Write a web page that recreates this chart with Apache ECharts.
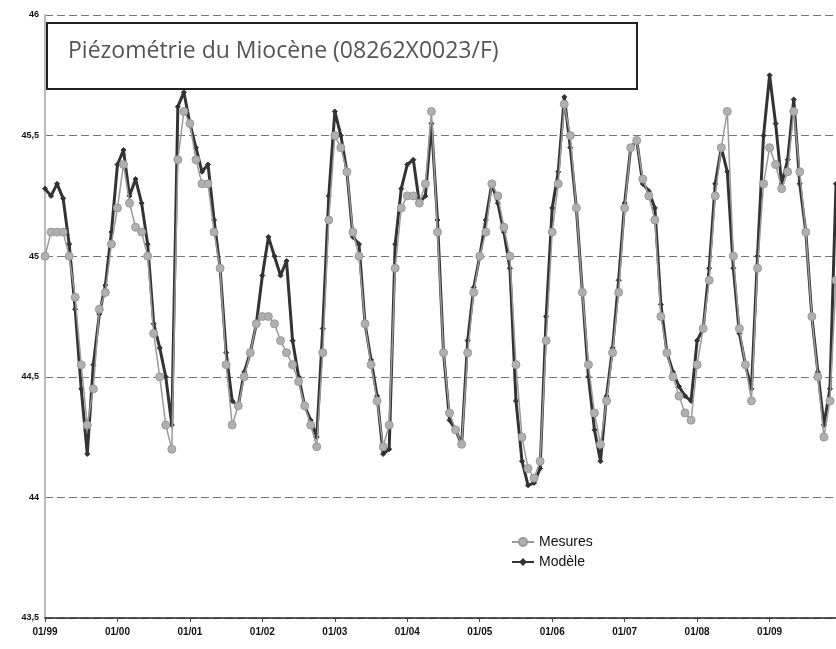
<!DOCTYPE html>
<html>
<head>
<meta charset="utf-8">
<script src="https://cdn.jsdelivr.net/npm/echarts@6/dist/echarts.min.js"></script>
<style>html,body{margin:0;padding:0;background:#fff;}#c{width:836px;height:649px;}</style>
</head>
<body>
<div id="c"></div>
<script>
// Monthly series, starting January 1999
var startYear = 1999;
var modele = [
45.28,45.25,45.30,45.24,45.05,44.78,44.45,44.18,44.55,44.76,44.88,45.10,
45.38,45.44,45.25,45.32,45.22,45.05,44.72,44.62,44.50,44.30,45.62,45.68,
45.55,45.45,45.35,45.38,45.15,44.95,44.60,44.40,44.38,44.52,44.60,44.72,
44.92,45.08,45.00,44.92,44.98,44.65,44.50,44.38,44.32,44.25,44.70,45.25,
45.60,45.50,45.35,45.08,45.05,44.72,44.57,44.42,44.18,44.20,45.05,45.28,
45.38,45.40,45.22,45.25,45.55,45.15,44.60,44.32,44.28,44.22,44.65,44.87,
45.00,45.15,45.30,45.22,45.10,44.95,44.40,44.15,44.05,44.06,44.12,44.75,
45.20,45.35,45.66,45.45,45.20,44.85,44.50,44.28,44.15,44.42,44.62,44.90,
45.22,45.45,45.48,45.30,45.27,45.20,44.80,44.60,44.52,44.46,44.42,44.40,
44.65,44.70,44.95,45.30,45.45,45.35,44.95,44.68,44.55,44.45,45.00,45.50,
45.75,45.55,45.30,45.40,45.65,45.30,45.10,44.75,44.52,44.30,44.45,45.30
];
var mesures = [
45.00,45.10,45.10,45.10,45.00,44.83,44.55,44.30,44.45,44.78,44.85,45.05,
45.20,45.38,45.22,45.12,45.10,45.00,44.68,44.50,44.30,44.20,45.40,45.60,
45.55,45.40,45.30,45.30,45.10,44.95,44.55,44.30,44.38,44.50,44.60,44.72,
44.75,44.75,44.72,44.65,44.60,44.55,44.48,44.38,44.30,44.21,44.60,45.15,
45.50,45.45,45.35,45.10,45.00,44.72,44.55,44.40,44.21,44.30,44.95,45.20,
45.25,45.25,45.22,45.30,45.60,45.10,44.60,44.35,44.28,44.22,44.60,44.85,
45.00,45.10,45.30,45.25,45.12,45.00,44.55,44.25,44.12,44.08,44.15,44.65,
45.10,45.30,45.63,45.50,45.20,44.85,44.55,44.35,44.22,44.40,44.60,44.85,
45.20,45.45,45.48,45.32,45.25,45.15,44.75,44.60,44.50,44.42,44.35,44.32,
44.55,44.70,44.90,45.25,45.45,45.60,45.00,44.70,44.55,44.40,44.95,45.30,
45.45,45.38,45.28,45.35,45.60,45.35,45.10,44.75,44.50,44.25,44.40,44.90
];
var xTickLabels = ['01/99','01/00','01/01','01/02','01/03','01/04','01/05','01/06','01/07','01/08','01/09'];
var yTickLabels = {'43.5':'43,5','44':'44','44.5':'44,5','45':'45','45.5':'45,5','46':'46'};
var titleText = 'Piézométrie du Miocène (08262X0023/F)';

function toPairs(arr){ return arr.map(function(v,i){ return [startYear + i/12, v]; }); }

var chart = echarts.init(document.getElementById('c'), null, {renderer:'canvas'});
chart.setOption({
  animation:false,
  backgroundColor:'#ffffff',
  grid:{left:45, right:0, top:15, bottom:31, containLabel:false},
  xAxis:{
    type:'value', min:startYear, max:startYear + (modele.length-1)/12, interval:1,
    axisLine:{show:true, lineStyle:{color:'#222', width:1.5}},
    axisTick:{show:true, length:4, inside:false, lineStyle:{color:'#444'}},
    splitLine:{show:false},
    axisLabel:{showMaxLabel:false, color:'#111', fontSize:10, fontWeight:'bold', fontFamily:'Liberation Sans', margin:9,
      formatter:function(v){ var k=Math.round(v-startYear); return xTickLabels[k]||''; }}
  },
  yAxis:{
    type:'value', min:43.5, max:46, interval:0.5,
    axisLine:{show:true, lineStyle:{color:'#bbb', width:2}},
    axisTick:{show:false},
    splitLine:{show:true, lineStyle:{color:'#777', type:[8,4], width:1.2}},
    axisLabel:{color:'#111', fontSize:9, fontWeight:'bold', fontFamily:'Liberation Sans', margin:6,
      formatter:function(v){ return yTickLabels[String(v)]||String(v); }}
  },
  legend:{
    orient:'vertical', left:506, top:530, itemGap:6, itemWidth:22, itemHeight:10,
    textStyle:{color:'#111', fontSize:14, fontFamily:'Liberation Sans'},
    data:['Mesures','Modèle']
  },
  graphic:[
    {type:'rect', left:46, top:22, shape:{width:590, height:66}, style:{fill:'#fff', stroke:'#222', lineWidth:2}, z:100},
    {type:'text', left:68, top:40, style:{text:titleText, fill:'#555', font:'23px "Open Sans", sans-serif'}, z:101}
  ],
  series:[
    {name:'Modèle', type:'line', data:toPairs(modele), z:3,
      symbol:'diamond', symbolSize:5, showSymbol:true,
      lineStyle:{color:'#333333', width:3},
      itemStyle:{color:'#333333', borderColor:'#333333'}},
    {name:'Mesures', type:'line', data:toPairs(mesures), z:4,
      symbol:'circle', symbolSize:8, showSymbol:true,
      lineStyle:{color:'#9a9a9a', width:1.5},
      itemStyle:{color:'#b0b0b0', borderColor:'#999', borderWidth:1}}
  ]
});
</script>
</body>
</html>
